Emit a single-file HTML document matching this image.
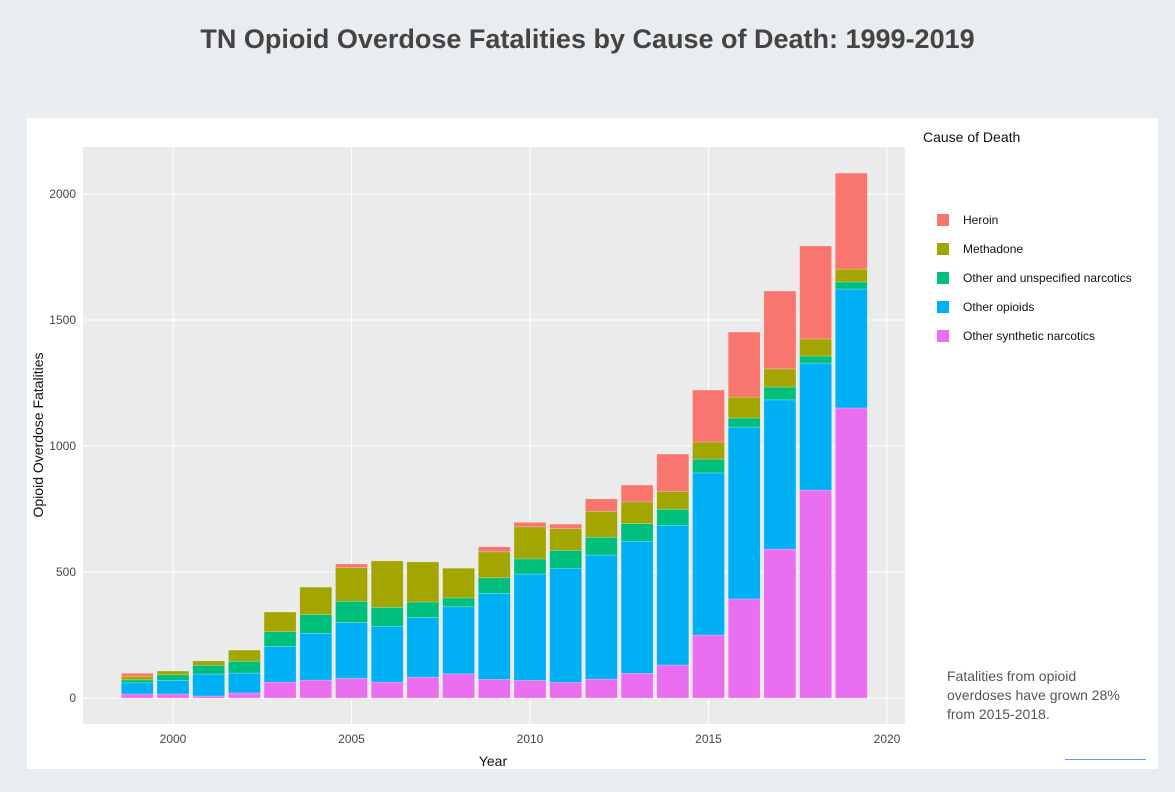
<!DOCTYPE html>
<html><head><meta charset="utf-8">
<style>
html,body{margin:0;padding:0;width:1175px;height:792px;background:#eaedf0;overflow:hidden;font-family:"Liberation Sans",sans-serif;}
#title{position:absolute;left:0;top:24px;width:1175px;text-align:center;font-weight:bold;font-size:27px;color:#444;}
#panel{position:absolute;left:27px;top:118px;width:1131px;height:651px;background:#fff;}
#note{position:absolute;left:947px;top:667px;font-size:14px;color:#555;line-height:19px;}
#uline{position:absolute;left:1065px;top:759px;width:81px;height:1px;background:#5b9bf0;}
</style></head><body>
<div id="title">TN Opioid Overdose Fatalities by Cause of Death: 1999-2019</div>
<div id="panel"></div>
<svg id="chart" width="1175" height="792" style="position:absolute;left:0;top:0"></svg>
<div id="note">Fatalities from opioid<br>overdoses have grown 28%<br>from 2015-2018.</div>
<div id="uline"></div>
<script>
const years=[1999,2000,2001,2002,2003,2004,2005,2006,2007,2008,2009,2010,2011,2012,2013,2014,2015,2016,2017,2018,2019];
const synthetic=[16,16,8,20,63,71,78,63,83,96,74,70,62,75,98,131,250,393,591,825,1151];
const otherOpioids=[44,54,87,79,142,186,221,221,236,266,341,422,453,492,524,554,643,682,592,504,472];
const otherNarc=[12,22,35,47,58,74,85,76,62,35,62,60,71,71,70,64,55,36,51,28,28];
const methadone=[14,15,17,44,78,109,133,184,159,118,103,127,86,103,86,71,68,83,72,68,51];
const heroin=[12,0,0,0,0,0,15,0,0,0,20,18,18,49,67,148,206,258,309,369,381];
const series=[[synthetic,'#ea6ff0','Other synthetic narcotics'],[otherOpioids,'#00b0f5','Other opioids'],[otherNarc,'#00bf7d','Other and unspecified narcotics'],[methadone,'#a3a500','Methadone'],[heroin,'#f8766d','Heroin']];
const yTicks=[0,500,1000,1500,2000];
const xTicks=[2000,2005,2010,2015,2020];
const NS='http://www.w3.org/2000/svg';
const svg=document.getElementById('chart');
const X0=83,X1=905,Y0=147,Y1=724;
const xs=v=>173+(v-2000)*35.7;
const ys=v=>698-v*0.252;
function mk(t,a,p){const e=document.createElementNS(NS,t);for(const k in a)e.setAttribute(k,a[k]);(p||svg).appendChild(e);return e;}
const bg=mk('rect',{x:X0,y:Y0,width:X1-X0,height:Y1-Y0,fill:'#ebebeb'});


yTicks.forEach(t=>{
 const l=mk('line',{x1:X0,x2:X1,y1:ys(t),y2:ys(t),stroke:'#fff','stroke-width':1});
 
 
 const tx=mk('text',{x:76,y:ys(t)+4,'text-anchor':'end','font-size':12,fill:'#444','font-family':'Liberation Sans'});
 tx.textContent=t;
 
 
});
xTicks.forEach(t=>{
 const l=mk('line',{x1:xs(t),x2:xs(t),y1:Y0,y2:Y1,stroke:'#fff','stroke-width':1});
 
 
 const tx=mk('text',{x:xs(t),y:743,'text-anchor':'middle','font-size':12,fill:'#444','font-family':'Liberation Sans'});
 tx.textContent=t;
 
 
});
years.forEach((yr,i)=>{
 let base=0;
 series.forEach(s=>{
  const v=s[0][i];
  if(v>0){
   const r=mk('rect',{x:xs(yr)-16,y:ys(base+v),width:32,height:ys(base)-ys(base+v),fill:s[1],stroke:'rgba(255,255,255,0.35)','stroke-width':0.6});
   
   
  }
  base+=v;
 });
});
const xt=mk('text',{x:493,y:766,'text-anchor':'middle','font-size':14,fill:'#111','font-family':'Liberation Sans'});
xt.textContent='Year';


const yt=mk('text',{x:0,y:0,'text-anchor':'middle','font-size':14,fill:'#111','font-family':'Liberation Sans',transform:'translate(43,435) rotate(-90)'});
yt.textContent='Opioid Overdose Fatalities';


const lt=mk('text',{x:923,y:142,'font-size':14,fill:'#111','font-family':'Liberation Sans'});
lt.textContent='Cause of Death';


series.slice().reverse().forEach((s,i)=>{
 const cy=220+i*29;
 const g=mk('g',{});
 
 
 mk('rect',{x:937,y:cy-6,width:12,height:12,fill:s[1]},g);
 const t=mk('text',{x:963,y:cy+4,'font-size':12,fill:'#111','font-family':'Liberation Sans'},g);
 t.textContent=s[2];
});
</script>
</body></html>
